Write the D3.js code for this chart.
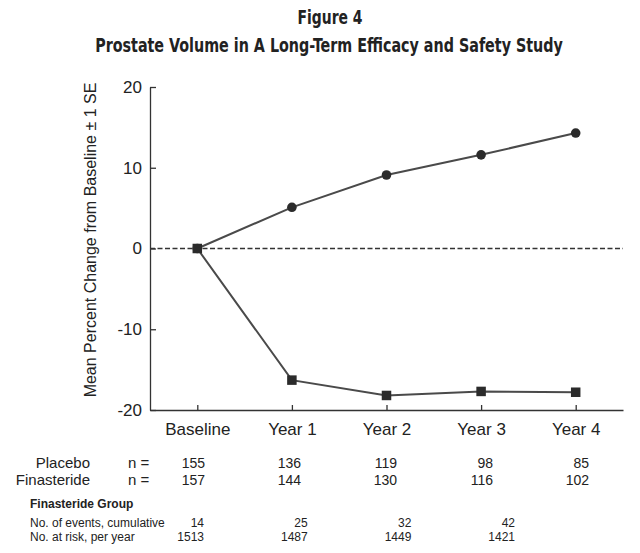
<!DOCTYPE html>
<html>
<head>
<meta charset="utf-8">
<script src="https://cdn.jsdelivr.net/npm/d3@7"></script>
<style>
  body { margin: 0; background: #fff; }
  svg { display: block; }
  text { fill: #222; }
</style>
</head>
<body>
<div id="chart"></div>
<script>
// Données du graphique
const categories = ["Baseline", "Year 1", "Year 2", "Year 3", "Year 4"];
const placebo = [0, 5.1, 9.1, 11.6, 14.3];
const finasteride = [0, -16.3, -18.2, -17.7, -17.8];
const yTicks = [-20, -10, 0, 10, 20];
const placeboN = [155, 136, 119, 98, 85];
const finasterideN = [157, 144, 130, 116, 102];
const eventsCum = [14, 25, 32, 42];
const atRisk = [1513, 1487, 1449, 1421];

const width = 640, height = 553;
const sans = "'Liberation Sans', Arial, Helvetica, sans-serif";
const narrow = "'Liberation Sans Narrow', 'DejaVu Sans Condensed', 'Liberation Sans', sans-serif";

const svg = d3.select("#chart").append("svg")
  .attr("width", width)
  .attr("height", height);

svg.append("rect").attr("width", width).attr("height", height).attr("fill", "#fff");

// Titre : on resserre horizontalement pour imiter une police condensée
function titleLine(txt, cx, baseline, size, targetW) {
  const g = svg.append("g");
  const t = g.append("text")
    .attr("text-anchor", "middle")
    .style("font-family", narrow).style("font-weight", "bold").style("font-size", size + "px")
    .text(txt);
  const w = t.node().getComputedTextLength();
  const k = Math.min(1, targetW / w);
  g.attr("transform", `translate(${cx},${baseline}) scale(${k},1)`);
}
titleLine("Figure 4", 330, 24, 19, 65);
titleLine("Prostate Volume in A Long-Term Efficacy and Safety Study", 329, 52, 20, 468);

// Echelles
const x = d3.scalePoint().domain(categories).range([150, 623]).padding(0.5);
const y = d3.scaleLinear().domain([-20, 20]).range([410, 87]);

// Axe Y
const yAxis = svg.append("g")
  .attr("transform", "translate(150,0)")
  .call(d3.axisLeft(y).tickValues(yTicks).tickFormat(d => String(d))
    .tickSizeInner(-6).tickSizeOuter(0).tickPadding(8));
yAxis.selectAll("text").style("font-family", sans).style("font-size", "17px").attr("fill", "#222");

// Axe X
const xAxis = svg.append("g")
  .attr("transform", "translate(0,410)")
  .call(d3.axisBottom(x).tickSizeInner(-5).tickSizeOuter(0).tickPadding(13));
xAxis.selectAll("text").style("font-family", sans).style("font-size", "17px").attr("fill", "#222");

svg.selectAll(".domain, .tick line").attr("stroke", "#333").attr("stroke-width", 1.3);

// Ligne zéro pointillée
svg.append("line")
  .attr("x1", 150).attr("x2", 623)
  .attr("y1", y(0)).attr("y2", y(0))
  .attr("stroke", "#333").attr("stroke-width", 1.4)
  .attr("stroke-dasharray", "5,2.5");

// Titre axe Y
svg.append("text")
  .attr("transform", "translate(96,240) rotate(-90)")
  .attr("text-anchor", "middle")
  .style("font-family", sans).style("font-size", "16px")
  .text("Mean Percent Change from Baseline \u00b1 1 SE");

// Courbes
const line = d3.line().x((d, i) => x(categories[i])).y(d => y(d));

[placebo, finasteride].forEach(series => {
  svg.append("path")
    .datum(series)
    .attr("d", line)
    .attr("fill", "none")
    .attr("stroke", "#4a4a4a")
    .attr("stroke-width", 2);
});

svg.append("g").selectAll("circle")
  .data(placebo)
  .enter().append("circle")
  .attr("cx", (d, i) => x(categories[i]))
  .attr("cy", d => y(d))
  .attr("r", 4.8)
  .attr("fill", "#2b2b2b");

const sq = 9.5;
svg.append("g").selectAll("rect")
  .data(finasteride)
  .enter().append("rect")
  .attr("x", (d, i) => x(categories[i]) - sq / 2)
  .attr("y", d => y(d) - sq / 2)
  .attr("width", sq).attr("height", sq)
  .attr("fill", "#2b2b2b");

// Tableau des effectifs
const nCol = d3.scaleLinear().domain([0, 4]).range([205, 589]);
const rows = [
  { label: "Placebo", values: placeboN, y: 468 },
  { label: "Finasteride", values: finasterideN, y: 485 }
];

rows.forEach(r => {
  svg.append("text")
    .attr("x", 90).attr("y", r.y).attr("text-anchor", "end")
    .style("font-family", sans).style("font-size", "15px")
    .text(r.label);
  svg.append("text")
    .attr("x", 128).attr("y", r.y)
    .style("font-family", sans).style("font-size", "15px")
    .text("n =");
  svg.append("g").selectAll("text")
    .data(r.values)
    .enter().append("text")
    .attr("x", (d, i) => nCol(i)).attr("y", r.y)
    .attr("text-anchor", "end")
    .style("font-family", sans).style("font-size", "14px")
    .text(d => d);
});

// Groupe finastéride
svg.append("text")
  .attr("x", 30).attr("y", 508)
  .style("font-family", sans).style("font-size", "12px").style("font-weight", "bold")
  .text("Finasteride Group");

const evCol = d3.scaleLinear().domain([0, 3]).range([204, 515]);
const evRows = [
  { label: "No. of events, cumulative", values: eventsCum, y: 527 },
  { label: "No. at risk, per year", values: atRisk, y: 541 }
];

evRows.forEach(r => {
  svg.append("text")
    .attr("x", 30).attr("y", r.y)
    .style("font-family", sans).style("font-size", "12px")
    .text(r.label);
  svg.append("g").selectAll("text")
    .data(r.values)
    .enter().append("text")
    .attr("x", (d, i) => evCol(i)).attr("y", r.y)
    .attr("text-anchor", "end")
    .style("font-family", sans).style("font-size", "12px")
    .text(d => d);
});
</script>
</body>
</html>
